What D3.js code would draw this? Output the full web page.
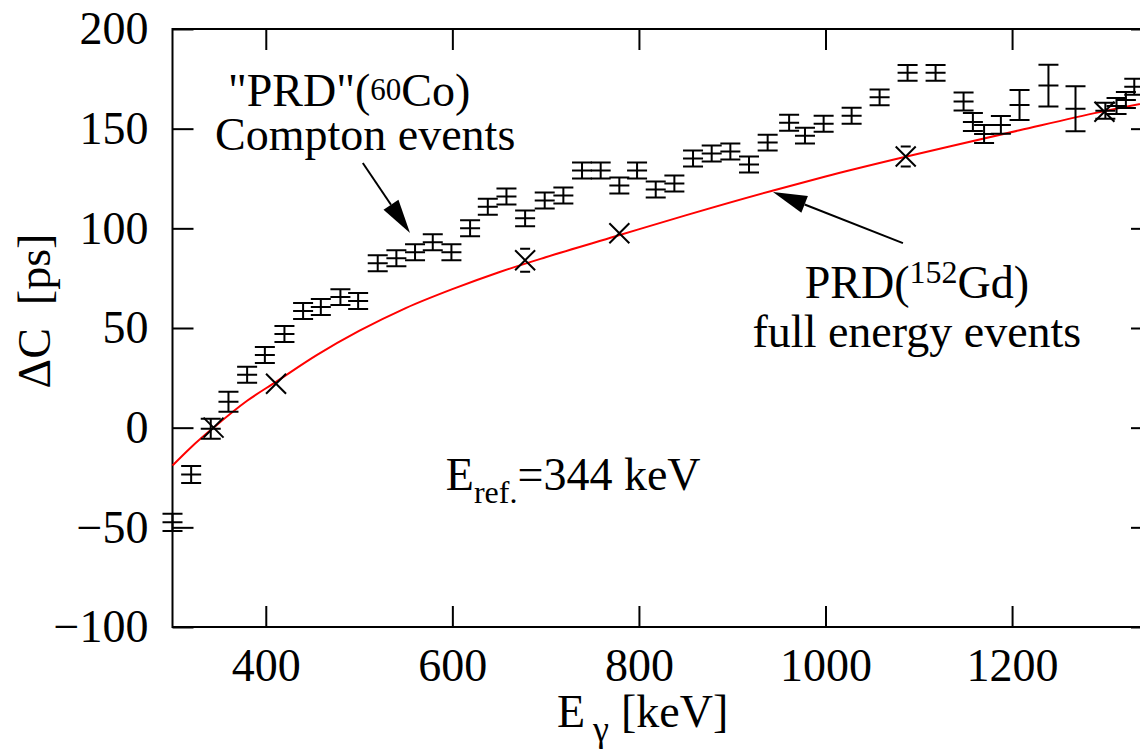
<!DOCTYPE html>
<html>
<head>
<meta charset="utf-8">
<script src="https://cdn.jsdelivr.net/npm/d3@7"></script>
<style>
  body { margin: 0; background: #fff; }
  svg { display: block; }
</style>
</head>
<body>
<svg id="chart" width="1140" height="754"></svg>
<script>
// "PRD"(60Co) Compton-event points: energy [keV], ΔC [ps], error [ps]
const comptonE = [300, 320, 341, 360, 380, 399, 420, 440, 459, 480,
                  499, 520, 540, 560, 579, 599, 619, 638, 658, 678,
                  699, 719, 739, 759, 779, 798, 818, 838, 858, 878,
                  898, 918, 938, 961, 978, 998, 1028, 1058, 1088, 1118,
                  1148, 1158, 1170, 1188, 1208, 1239, 1268, 1300, 1312, 1322,
                  1331];
const comptonDC = [-47.5, -23.5, -0.5, 13, 26.5, 36.5, 47, 58.5, 60.5, 65.5,
                   63.5, 82.5, 85, 88, 93, 88, 100, 110.8, 116, 105,
                   114, 116.5, 129, 129, 121.5, 129, 119.5, 122.5, 135, 137.5,
                   138.5, 132, 143, 153, 146.5, 152.5, 156.5, 165.7, 178, 178,
                   163.6, 153.3, 147.3, 151.9, 161.9, 171.6, 160, 159, 161.4, 164.4,
                   171];
const comptonErr = [4.3, 4.3, 5, 5, 4, 4, 4, 4, 4, 4,
                    4, 4, 4, 4, 4, 4, 4, 4, 4, 4,
                    4, 4, 4, 4, 4, 4, 4, 4, 4, 4,
                    4, 4, 4, 4, 4, 4, 4, 4, 4, 4,
                    4.5, 4.5, 4.5, 4.5, 7.5, 10.5, 11.3, 4, 4, 4,
                    4];

// PRD(152Gd) full-energy points
const gdE = [344, 411, 678, 779, 1086, 1299];
const gdDC = [0, 22, 84, 97.5, 136, 158.5];
const gdErr = [0, 0, 5.8, 0, 5, 0];

// PRD curve samples
const fitE = [300, 320, 344, 380, 411, 455, 500, 550, 600, 650, 700, 775, 850, 944, 1000, 1087, 1134, 1208, 1294, 1350];
const fitDC = [-19, -9.8, 0, 13.5, 23, 36.5, 48.5, 60, 69.5, 78, 85.5, 96, 106.5, 119, 126, 136, 141.2, 149.2, 158.3, 163.5];

const xTicks = [400, 600, 800, 1000, 1200];
const yTicks = [-100, -50, 0, 50, 100, 150, 200];

const FONT = '"Liberation Serif"';
const svg = d3.select("#chart");
const x = d3.scaleLinear().domain([300, 1350]).range([172.5, 1152]);
const y = d3.scaleLinear().domain([-100, 200]).range([627, 29]);
const FS = 46;
const TICK = 21;

// axes with inward ticks on all four sides
const gx = svg.append("g").attr("transform", `translate(0,${y(-100)})`)
  .call(d3.axisBottom(x).tickValues(xTicks).tickSize(-TICK).tickPadding(21).tickFormat(d3.format("d")));
const gxt = svg.append("g").attr("transform", `translate(0,${y(200)})`)
  .call(d3.axisTop(x).tickValues(xTicks).tickSize(-TICK).tickFormat(""));
const gy = svg.append("g").attr("transform", `translate(${x(300)},0)`)
  .call(d3.axisLeft(y).tickValues(yTicks).tickSize(-TICK).tickPadding(24).tickFormat(d3.format("d")));
const gyr = svg.append("g").attr("transform", `translate(${x(1350)},0)`)
  .call(d3.axisRight(y).tickValues(yTicks).tickSize(-TICK).tickFormat(""));
[gx, gxt, gy, gyr].forEach(g => {
  g.attr("font-family", FONT).attr("font-size", FS);
  g.select(".domain").remove();
  g.selectAll(".tick line").attr("stroke", "#000").attr("stroke-width", 2);
  g.selectAll(".tick text").attr("fill", "#000").attr("font-family", FONT).attr("font-size", FS);
});

// frame
svg.append("rect")
  .attr("x", x(300)).attr("y", y(200))
  .attr("width", x(1350) - x(300)).attr("height", y(-100) - y(200))
  .attr("fill", "none").attr("stroke", "#000").attr("stroke-width", 2);

// PRD curve
const fit = fitE.map((e, i) => [e, fitDC[i]]);
svg.append("path")
  .attr("d", d3.line().x(d => x(d[0])).y(d => y(d[1])).curve(d3.curveMonotoneX)(fit))
  .attr("fill", "none").attr("stroke", "#ff0000").attr("stroke-width", 2);

// Compton points: error bars with caps and a centre dash
const half = 10;
const compton = comptonE.map((e, i) => ({ e, v: comptonDC[i], s: comptonErr[i] }));
svg.append("g").selectAll("path").data(compton).join("path")
  .attr("d", d => {
    const cx = x(d.e), cy = y(d.v), t = y(d.v + d.s), b = y(d.v - d.s);
    return `M${cx},${t}V${b}M${cx - half},${t}H${cx + half}M${cx - half},${b}H${cx + half}M${cx - half},${cy}H${cx + half}`;
  })
  .attr("fill", "none").attr("stroke", "#000").attr("stroke-width", 2);

// Gd points: crosses with short error caps
const gd = gdE.map((e, i) => ({ e, v: gdDC[i], s: gdErr[i] }));
const xs = 10, capw = 5;
svg.append("g").selectAll("path").data(gd).join("path")
  .attr("d", d => {
    const cx = x(d.e), cy = y(d.v);
    let p = `M${cx - xs},${cy - xs}L${cx + xs},${cy + xs}M${cx - xs},${cy + xs}L${cx + xs},${cy - xs}`;
    if (d.s > 0) {
      const t = y(d.v + d.s), b = y(d.v - d.s);
      p += `M${cx - capw},${t}H${cx + capw}M${cx - capw},${b}H${cx + capw}`;
    }
    return p;
  })
  .attr("fill", "none").attr("stroke", "#000").attr("stroke-width", 2);

// arrows (data coordinates: from -> tip)
function arrow(from, tip) {
  const x0 = x(from[0]), y0 = y(from[1]), x1 = x(tip[0]), y1 = y(tip[1]);
  const ang = Math.atan2(y1 - y0, x1 - x0);
  const L = 34, W = 9;
  const bx = x1 - L * Math.cos(ang), by = y1 - L * Math.sin(ang);
  svg.append("line").attr("x1", x0).attr("y1", y0).attr("x2", bx).attr("y2", by)
    .attr("stroke", "#000").attr("stroke-width", 2);
  const px = -Math.sin(ang) * W, py = Math.cos(ang) * W;
  svg.append("path")
    .attr("d", `M${x1},${y1}L${bx + px},${by + py}L${bx - px},${by - py}Z`)
    .attr("fill", "#000");
}
arrow([504, 132.8], [554.6, 97.7]);
arrow([1083, 92.6], [943.7, 118.2]);

// annotation texts
function label(px, py) {
  return svg.append("text").attr("x", px).attr("y", py)
    .attr("font-family", FONT).attr("font-size", FS).attr("fill", "#000");
}
function sub(t, txt, dy, size, dx) {
  const s = t.append("tspan").attr("font-family", FONT).attr("dy", dy).text(txt);
  if (size) s.attr("font-size", size);
  if (dx) s.attr("dx", dx);
  return s;
}
const t1 = label(x(359.5), y(161.4));
sub(t1, "\"PRD\"(", 0);
sub(t1, "60", -6, 31);
sub(t1, "Co)", 6);
label(x(345.6), y(139.3)).text("Compton events");

const t2 = label(x(1098), y(65)).attr("text-anchor", "middle");
sub(t2, "PRD(", 0);
sub(t2, "152", -15, 32);
sub(t2, "Gd)", 15);
label(x(1098), y(40.5)).attr("text-anchor", "middle").text("full energy events");

const t3 = label(x(593), y(-31.3));
sub(t3, "E", 0);
sub(t3, "ref.", 13, 32);
sub(t3, "=344 keV", -13);

// axis titles
const xl = label(557, 727);
sub(xl, "E", 0);
sub(xl, "γ", 14, 36, 8);
sub(xl, "[keV]", -14, null, 12);

label(0, 0)
  .attr("transform", `translate(50,311) rotate(-90)`)
  .attr("text-anchor", "middle")
  .attr("xml:space", "preserve")
  .text("ΔC  [ps]");
</script>
</body>
</html>
